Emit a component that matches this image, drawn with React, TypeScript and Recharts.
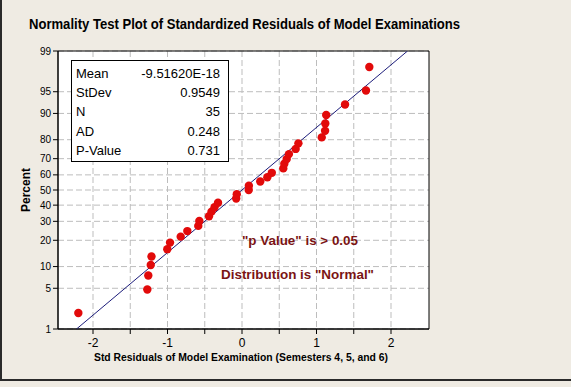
import React from "react"
import {
  ScatterChart,
  Scatter,
  XAxis,
  YAxis,
  CartesianGrid,
  ReferenceArea,
} from "recharts"

// Std residuals, sorted
const residuals = [
  -2.197, -1.271, -1.258, -1.225, -1.215, -1.003, -0.966, -0.823, -0.734, -0.587,
  -0.573, -0.443, -0.409, -0.369, -0.322, -0.078, -0.07, 0.09, 0.092, 0.245,
  0.34, 0.4, 0.554, 0.568, 0.6, 0.63, 0.72, 0.757, 1.07, 1.115,
  1.118, 1.13, 1.383, 1.664, 1.709,
]

// Plotted percent for each residual
const percents = [
  1.98, 4.8, 7.63, 10.45, 13.28, 16.1, 18.93, 21.75, 24.58, 27.4,
  30.23, 33.05, 35.88, 38.7, 41.53, 44.35, 47.18, 50.0, 52.82, 55.65,
  58.47, 61.3, 64.12, 66.95, 69.77, 72.6, 75.42, 78.25, 81.07, 83.9,
  86.72, 89.55, 92.37, 95.2, 98.02,
]

const percentTicks = [1, 5, 10, 20, 30, 40, 50, 60, 70, 80, 90, 95, 99]
const xTicks = [-2, -1.5, -1, -0.5, 0, 0.5, 1, 1.5, 2]
const fitPercents = [1, 99]

const statLabels = ["Mean", "StDev", "N", "AD", "P-Value"]
const statValues = ["-9.51620E-18", "0.9549", "35", "0.248", "0.731"]

const MEAN = -9.5162e-18
const STDEV = 0.9549

// inverse normal cdf (Acklam)
function probit(p: number) {
  const a = [-39.69683028665376, 220.9460984245205, -275.9285104469687, 138.357751867269, -30.66479806614716, 2.506628277459239]
  const b = [-54.47609879822406, 161.5858368580409, -155.6989798598866, 66.80131188771972, -13.28068155288572]
  const c = [-0.007784894002430293, -0.3223964580411365, -2.400758277161838, -2.549732968560399, 4.374664141464968, 2.938163982698783]
  const d = [0.007784695709041462, 0.3224671290700398, 2.445134137142996, 3.754408661907416]
  const plow = 0.02425
  if (p < plow) {
    const q = Math.sqrt(-2 * Math.log(p))
    return (((((c[0] * q + c[1]) * q + c[2]) * q + c[3]) * q + c[4]) * q + c[5]) /
      ((((d[0] * q + d[1]) * q + d[2]) * q + d[3]) * q + 1)
  }
  if (p <= 1 - plow) {
    const q = p - 0.5
    const r = q * q
    return ((((((a[0] * r + a[1]) * r + a[2]) * r + a[3]) * r + a[4]) * r + a[5]) * q) /
      (((((b[0] * r + b[1]) * r + b[2]) * r + b[3]) * r + b[4]) * r + 1)
  }
  const q = Math.sqrt(-2 * Math.log(1 - p))
  return -(((((c[0] * q + c[1]) * q + c[2]) * q + c[3]) * q + c[4]) * q + c[5]) /
    ((((d[0] * q + d[1]) * q + d[2]) * q + d[3]) * q + 1)
}

const points = residuals.map((r, i) => ({ x: r, z: probit(percents[i] / 100) }))
const fitLine = fitPercents.map((p) => ({ x: MEAN + STDEV * probit(p / 100), z: probit(p / 100) }))
const yTicks = percentTicks.map((p) => probit(p / 100))
const yMin = probit(0.01)
const yMax = probit(0.99)
const xMin = -2.47
const xMax = 2.51

// z value back to its percent label
const percentLabel = (v: number) => {
  const i = yTicks.findIndex((t) => Math.abs(t - v) < 1e-6)
  return i >= 0 ? String(percentTicks[i]) : ""
}

const font = "'Liberation Sans', Arial, sans-serif"
const darkRed = "#7a1414"

export default function App() {
  return (
    <div
      style={{
        position: "fixed",
        left: 0,
        top: 0,
        width: 571,
        height: 387,
        background: "#efebe3",
        fontFamily: font,
      }}
    >
      <div
        style={{
          position: "absolute",
          left: 0,
          top: 0,
          width: 571,
          height: 379,
          borderLeft: "2px solid #2a2a2a",
          borderBottom: "2px solid #2a2a2a",
        }}
      />
      <ScatterChart
        width={571}
        height={387}
        margin={{ top: 51, right: 142, bottom: 38, left: 20 }}
        style={{ position: "absolute", left: 0, top: 0 }}
      >
        <CartesianGrid
          fill="#ffffff"
          stroke="#bdbdbd"
          strokeDasharray="6 3"
          horizontalValues={yTicks}
          verticalValues={xTicks}
        />
        <XAxis
          type="number"
          dataKey="x"
          domain={[xMin, xMax]}
          ticks={xTicks}
          interval={0}
          allowDataOverflow
          height={20}
          tickSize={5}
          tickMargin={4}
          tickLine={{ stroke: "#000" }}
          axisLine={{ stroke: "#000" }}
          tick={{ fill: "#000", fontSize: 12, fontFamily: font }}
          tickFormatter={(v: number) => (Number.isInteger(v) ? String(v) : "")}
        />
        <YAxis
          type="number"
          dataKey="z"
          domain={[yMin, yMax]}
          ticks={yTicks}
          interval={0}
          allowDataOverflow
          width={38}
          tickSize={5}
          tickMargin={2}
          tickLine={{ stroke: "#000" }}
          axisLine={{ stroke: "#000" }}
          tick={{ fill: "#000", fontSize: 10, fontFamily: font }}
          tickFormatter={percentLabel}
        />
        <ReferenceArea
          x1={xMin}
          x2={xMax}
          y1={yMin}
          y2={yMax}
          fill="none"
          stroke="#000"
          strokeWidth={1}
        />
        <Scatter
          data={fitLine}
          line={{ stroke: "#1c1c7a", strokeWidth: 1 }}
          shape={() => <g />}
          isAnimationActive={false}
        />
        <Scatter
          data={points}
          fill="#e20a0a"
          shape={(p: any) => <circle cx={p.cx} cy={p.cy} r={4.2} fill="#e20a0a" />}
          isAnimationActive={false}
        />
      </ScatterChart>
      <svg
        width={571}
        height={387}
        style={{ position: "absolute", left: 0, top: 0, pointerEvents: "none" }}
      >
        <text
          x={29}
          y={29}
          fontSize={14}
          fontWeight="bold"
          fill="#000"
          fontFamily={font}
          textLength={431}
          lengthAdjust="spacingAndGlyphs"
        >
          Normality Test Plot of Standardized Residuals of Model Examinations
        </text>
        <text
          x={241}
          y={361}
          fontSize={10}
          fontWeight="bold"
          textAnchor="middle"
          fontFamily={font}
          textLength={294}
          lengthAdjust="spacingAndGlyphs"
        >
          Std Residuals of Model Examination (Semesters 4, 5, and 6)
        </text>
        <text
          x={0}
          y={0}
          transform="translate(30,190) rotate(-90)"
          fontSize={12}
          fontWeight="bold"
          textAnchor="middle"
          fontFamily={font}
        >
          Percent
        </text>
        <rect x={71.5} y={60.5} width={157} height={101} fill="#fff" stroke="#000" />
        {statLabels.map((l, i) => (
          <text key={l} x={76} y={78 + i * 19.2} fontSize={13} fontFamily={font} fill="#000">
            {l}
          </text>
        ))}
        {statValues.map((v, i) => (
          <text
            key={v}
            x={220}
            y={78 + i * 19.2}
            fontSize={13}
            textAnchor="end"
            fontFamily={font}
            fill="#000"
          >
            {v}
          </text>
        ))}
        <text
          x={242}
          y={245}
          fontSize={13}
          fontWeight="bold"
          fill={darkRed}
          fontFamily={font}
          textLength={116}
          lengthAdjust="spacingAndGlyphs"
        >
          "p Value" is &gt; 0.05
        </text>
        <text
          x={221}
          y={279}
          fontSize={13}
          fontWeight="bold"
          fill={darkRed}
          fontFamily={font}
          textLength={153}
          lengthAdjust="spacingAndGlyphs"
        >
          Distribution is "Normal"
        </text>
      </svg>
    </div>
  )
}
